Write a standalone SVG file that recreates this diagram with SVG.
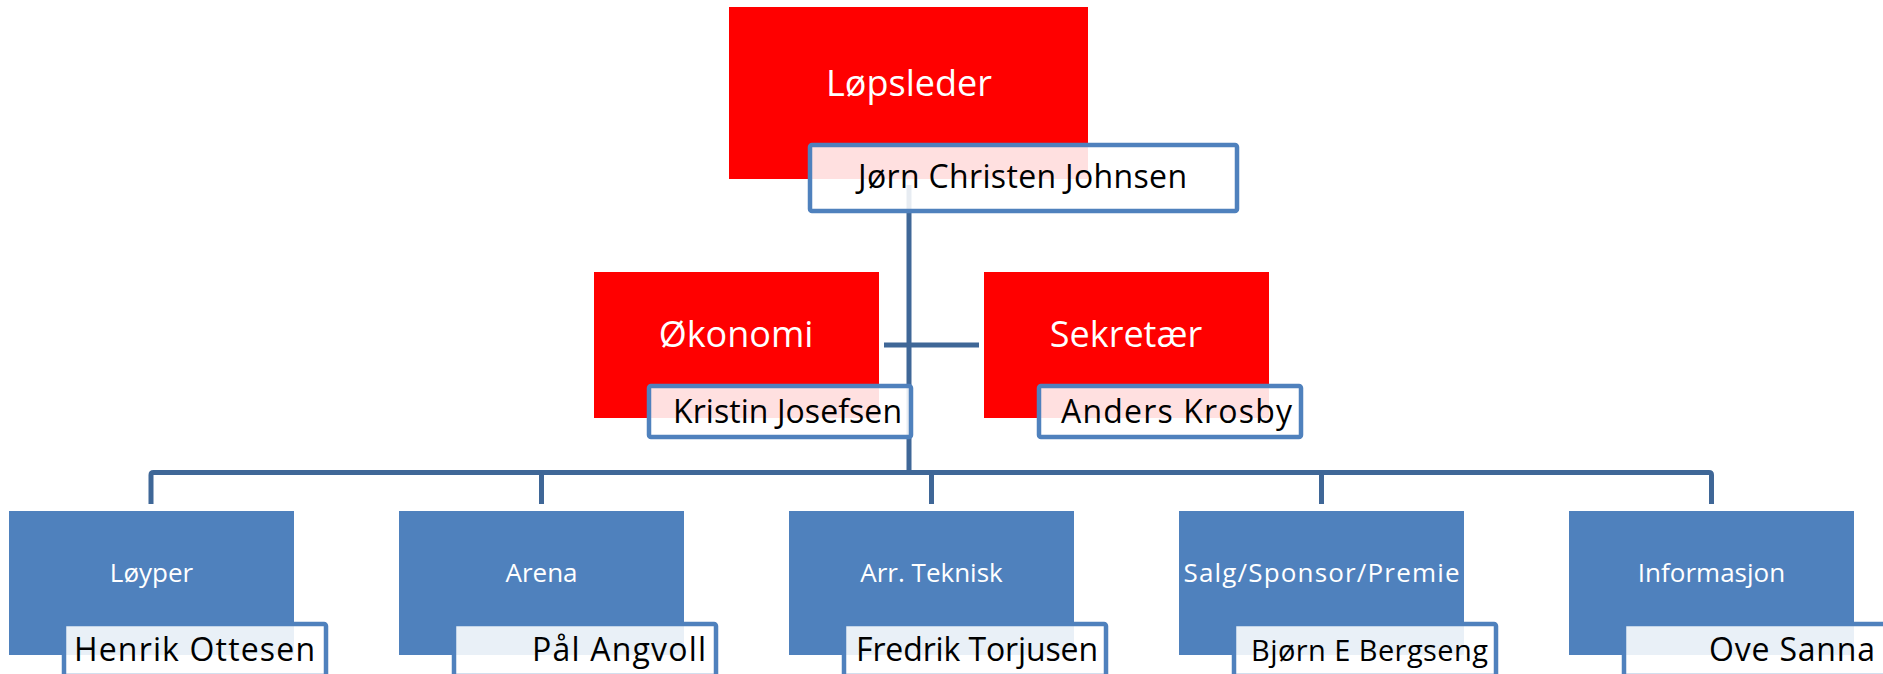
<svg xmlns="http://www.w3.org/2000/svg" width="1883" height="674" viewBox="0 0 1883 674">
<style>
.red{fill:#FF0000}
.blue{fill:#4F81BD}
.name{fill:#FFFFFF;fill-opacity:0.88;stroke:#4F81BD;stroke-width:4.5}
.conn{fill:none;stroke:#3F6797;stroke-width:5}
.tl{font-family:"Open Sans","Noto Sans",sans-serif;fill:#FFFFFF}
.tn{font-family:"Open Sans","Noto Sans",sans-serif;fill:#000000;font-size:32px}
.big{font-size:36px}
.small{font-size:26px}
</style>
<rect width="1883" height="674" fill="#FFFFFF"/>
<g id="connectors">
<path class="conn" d="M909,185 V472"/>
<path class="conn" d="M884,345 H979"/>
<path class="conn" d="M151,504 V475 Q151,472.5 153.5,472.5 H1709 Q1711.5,472.5 1711.5,475 V504"/>
<path class="conn" d="M541.5,472.5 V504"/>
<path class="conn" d="M931.5,472.5 V504"/>
<path class="conn" d="M1321.5,472.5 V504"/>
</g>
<g id="lopsleder">
<rect class="red" x="729" y="7" width="359" height="172"/>
<text class="tl big" x="909" y="96" text-anchor="middle">Løpsleder</text>
<rect class="name" x="810" y="145" width="427" height="66" rx="2"/>
<text class="tn" x="858" y="188" textLength="329">Jørn Christen Johnsen</text>
</g>
<g id="okonomi">
<rect class="red" x="594" y="272" width="285" height="146"/>
<text class="tl big" x="736" y="347" text-anchor="middle">Økonomi</text>
<rect class="name" x="649" y="386" width="262" height="51" rx="2"/>
<text class="tn" x="673" y="423" textLength="229">Kristin Josefsen</text>
</g>
<g id="sekretaer">
<rect class="red" x="984" y="272" width="285" height="146"/>
<text class="tl big" x="1126" y="347" text-anchor="middle">Sekretær</text>
<rect class="name" x="1039" y="386" width="262" height="51" rx="2"/>
<text class="tn" x="1061" y="423" textLength="231">Anders Krosby</text>
</g>
<g id="loyper">
<rect class="blue" x="9" y="511" width="285" height="144"/>
<text class="tl small" x="151.5" y="582" text-anchor="middle">Løyper</text>
<rect class="name" x="64" y="624" width="262" height="52" rx="2"/>
<text class="tn" x="74" y="661" textLength="241">Henrik Ottesen</text>
</g>
<g id="arena">
<rect class="blue" x="399" y="511" width="285" height="144"/>
<text class="tl small" x="541.5" y="582" text-anchor="middle">Arena</text>
<rect class="name" x="454" y="624" width="262" height="52" rx="2"/>
<text class="tn" x="532" y="661" textLength="174">Pål Angvoll</text>
</g>
<g id="arr-teknisk">
<rect class="blue" x="789" y="511" width="285" height="144"/>
<text class="tl small" x="931.5" y="582" text-anchor="middle">Arr. Teknisk</text>
<rect class="name" x="844" y="624" width="262" height="52" rx="2"/>
<text class="tn" x="856" y="661" textLength="242">Fredrik Torjusen</text>
</g>
<g id="salg">
<rect class="blue" x="1179" y="511" width="285" height="144"/>
<text class="tl small" x="1321.5" y="582" text-anchor="middle" textLength="276">Salg/Sponsor/Premie</text>
<rect class="name" x="1234" y="624" width="262" height="52" rx="2"/>
<text class="tn" x="1251" y="661" font-size="29" style="font-size:29px" textLength="237">Bjørn E Bergseng</text>
</g>
<g id="informasjon">
<rect class="blue" x="1569" y="511" width="285" height="144"/>
<text class="tl small" x="1711.5" y="582" text-anchor="middle">Informasjon</text>
<rect class="name" x="1624" y="624" width="262" height="52" rx="2"/>
<text class="tn" x="1709" y="661" textLength="166">Ove Sanna</text>
</g>
</svg>
